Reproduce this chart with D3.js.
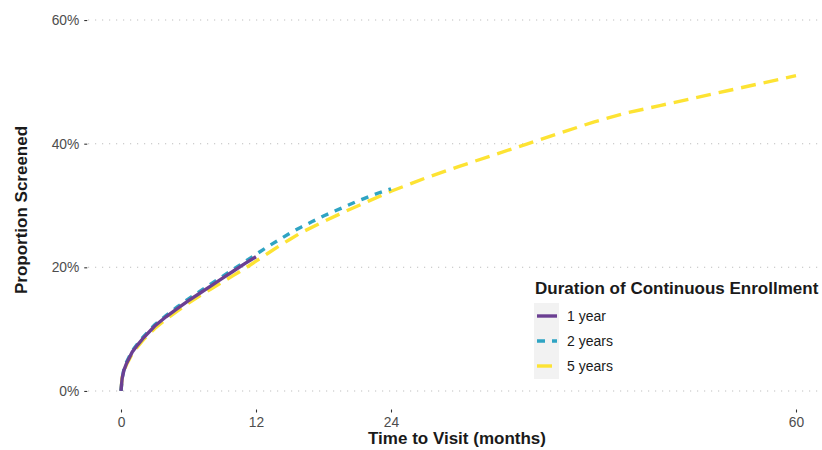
<!DOCTYPE html>
<html><head><meta charset="utf-8">
<script src="https://cdn.jsdelivr.net/npm/d3@7"></script>
<style>body{margin:0;background:#fff;} text{font-family:"Liberation Sans",Arial,sans-serif;}</style>
</head><body>
<svg id="c" width="822" height="450"></svg>
<script>
const seriesNames = ["1 year", "2 years", "5 years"];
const seriesColors = ["#6B3F92", "#2FA4C3", "#FDE333"];
const monthsA = [0,0.1,0.25,0.5,1,1.5,2,3,4,5,6,7,8,9,10,11,12];
const oneYear = [0,2.0,3.3,4.5,6.3,7.5,8.6,10.5,12.0,13.3,14.6,15.8,17.0,18.2,19.4,20.6,21.7];
const monthsB = [0,0.1,0.25,0.5,1,1.5,2,3,4,5,6,7,8,9,10,11,12,13,14,15,16,17,18,19,20,21,22,23,24];
const twoYears = [0,2.0,3.4,4.7,6.5,7.7,8.8,10.7,12.2,13.6,14.9,16.1,17.3,18.5,19.7,20.9,22.1,23.3,24.4,25.5,26.5,27.4,28.3,29.1,29.9,30.7,31.4,32.1,32.7];
const monthsC = [0,0.1,0.25,0.5,1,1.5,2,3,4,5,6,7,8,9,10,11,12,13,14,15,16,18,20,22,24,27,30,33,36,39,42,45,48,51,54,57,60];
const fiveYears = [0,2.2,3.2,4.3,6.0,7.2,8.3,10.1,11.6,12.9,14.2,15.4,16.5,17.6,18.7,19.8,21.0,22.2,23.4,24.5,25.6,27.4,29.1,30.7,32.3,34.4,36.3,38.1,39.9,41.7,43.5,45.0,46.2,47.4,48.6,49.8,51.0];
const xTicks = [0,12,24,60];
const yTicks = [0,20,40,60];

const svg = d3.select("#c");
const x = d3.scaleLinear().domain([-3,63]).range([87.25,829.75]);
const y = d3.scaleLinear().domain([-3,63]).range([409.5,1.5]);
const FONT = "Liberation Sans, Arial, sans-serif";

// gridlines
svg.append("g").selectAll("line").data(yTicks).join("line")
  .attr("x1",88).attr("x2",822).attr("y1",d=>y(d)).attr("y2",d=>y(d))
  .attr("stroke","#bfbfbf").attr("stroke-width",1.1).attr("stroke-dasharray","1.2,5.8");

// y axis
const ya = svg.append("g").attr("transform","translate(87.25,0)")
  .call(d3.axisLeft(y).tickValues(yTicks).tickSize(3).tickPadding(5).tickFormat(d=>d+"%"));
ya.select(".domain").remove();
ya.selectAll("line").attr("stroke","#333").attr("stroke-width",1.1);
ya.selectAll("text").attr("fill","#4d4d4d").attr("font-size","13.8px").style("font-family",FONT);

// x axis
const xa = svg.append("g").attr("transform","translate(0,409.5)")
  .call(d3.axisBottom(x).tickValues(xTicks).tickSize(3).tickPadding(5));
xa.select(".domain").remove();
xa.selectAll("line").attr("stroke","#333").attr("stroke-width",1.1);
xa.selectAll("text").attr("fill","#4d4d4d").attr("font-size","13.8px").style("font-family",FONT);

// lines
const series = [
  {m: monthsA, v: oneYear, dash: null, key: null},
  {m: monthsB, v: twoYears, dash: "7.5,7", key: "8,7"},
  {m: monthsC, v: fiveYears, dash: "15,8", key: "15,8"}
];
const line = d3.line().x(d=>x(d[0])).y(d=>y(d[1]));
[2,1,0].forEach(i=>{
  const s = series[i];
  svg.append("path").datum(s.m.map((mm,j)=>[mm,s.v[j]]))
    .attr("d",line).attr("fill","none").attr("stroke",seriesColors[i])
    .attr("stroke-width",3.4).attr("stroke-dasharray",s.dash);
});

// axis titles
svg.append("text").attr("x",457).attr("y",444).attr("text-anchor","middle")
  .attr("font-size","17px").attr("font-weight","bold").attr("fill","#1a1a1a").text("Time to Visit (months)");
svg.append("text").attr("transform","translate(26.5,210) rotate(-90)").attr("text-anchor","middle")
  .attr("font-size","17px").attr("font-weight","bold").attr("fill","#1a1a1a").text("Proportion Screened");

// legend
const lg = svg.append("g");
lg.append("text").attr("x",535).attr("y",294).attr("font-size","17px").attr("font-weight","bold")
  .attr("fill","#1a1a1a").text("Duration of Continuous Enrollment");
lg.append("rect").attr("x",534).attr("y",303).attr("width",25).attr("height",76).attr("fill","#f2f2f2");
seriesNames.forEach((n,i)=>{
  const yy = 316 + i*25;
  lg.append("line").attr("x1",537).attr("x2",557).attr("y1",yy).attr("y2",yy)
    .attr("stroke",seriesColors[i]).attr("stroke-width",3.4)
    .attr("stroke-dasharray", series[i].key);
  lg.append("text").attr("x",567).attr("y",yy+5.3).attr("font-size","14px").attr("fill","#1a1a1a").text(n);
});
</script>
</body></html>
